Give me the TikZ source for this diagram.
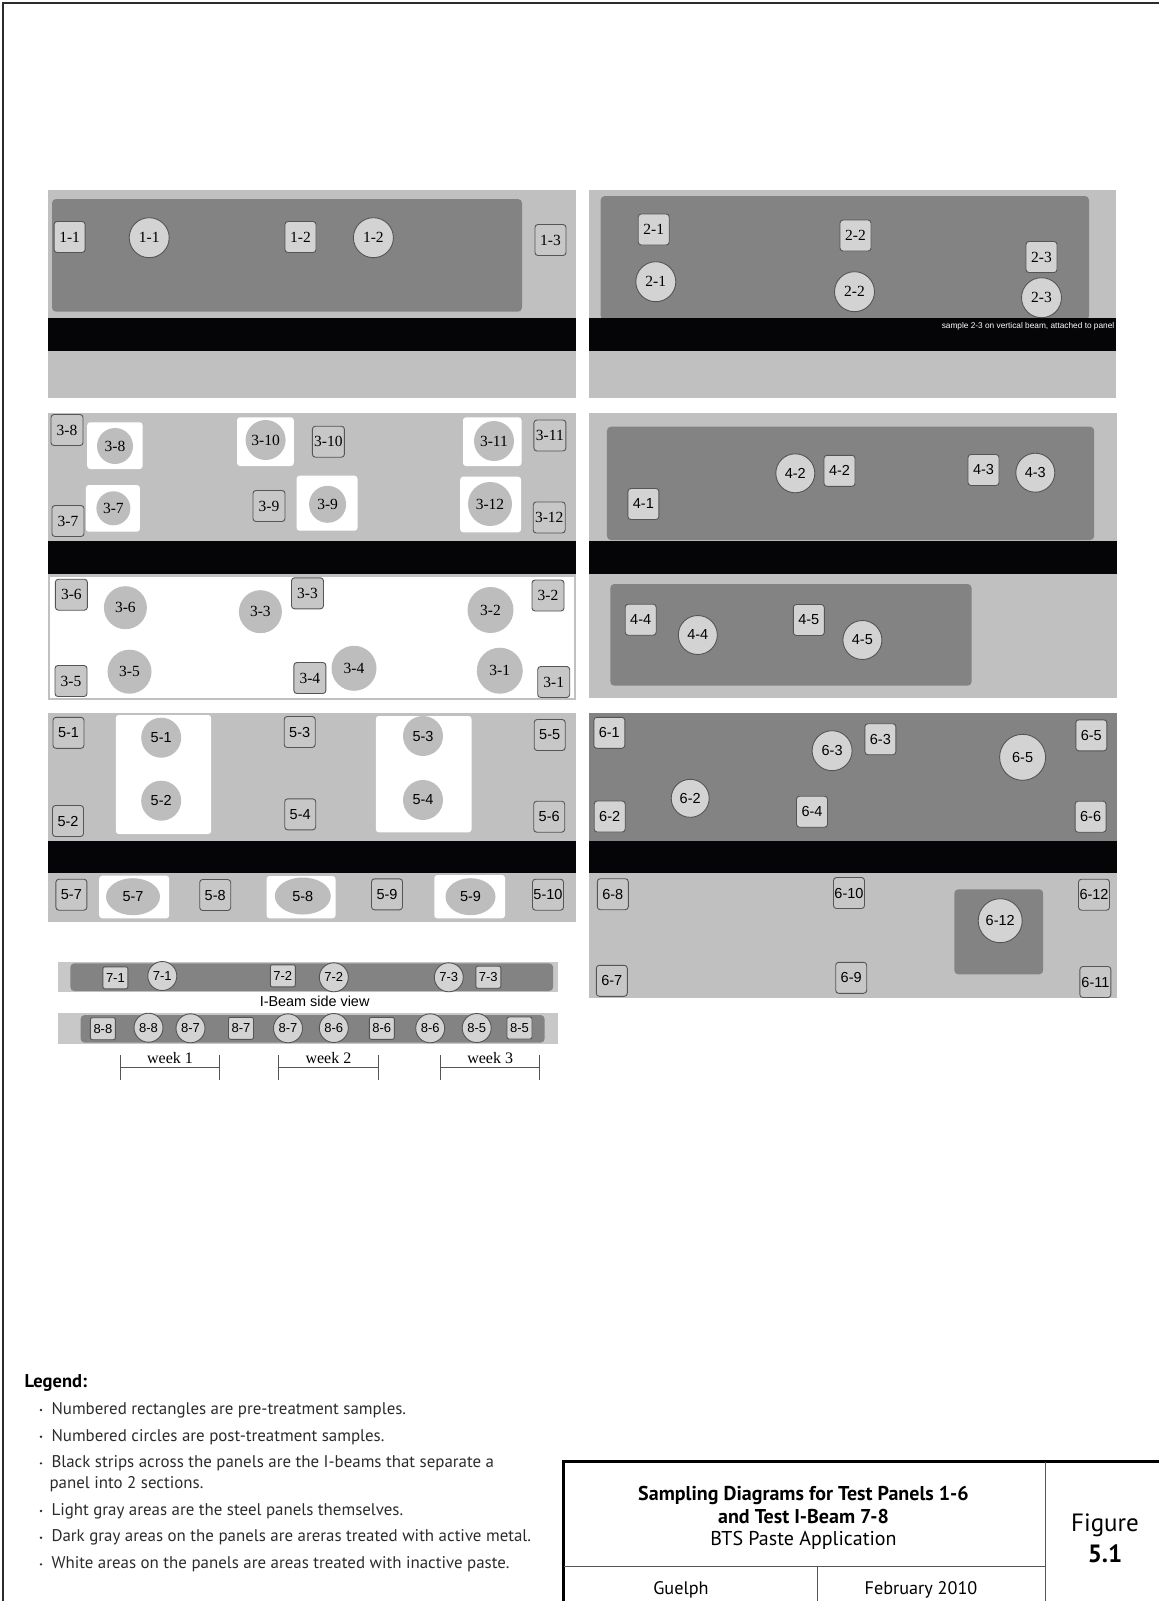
\documentclass[tikz,border=0pt]{standalone}
\usepackage{fontspec}
\setmainfont{Liberation Serif}
\newfontfamily\serifnum{Liberation Serif}
\newfontfamily\sansnum{Liberation Sans}
\newfontfamily\sheetfont{PT Sans}
\usetikzlibrary{shapes.geometric, arrows.meta, positioning, calc}
\definecolor{panelGray}{HTML}{C0C0C0}
\definecolor{activeGray}{HTML}{838383}
\definecolor{beamBlack}{HTML}{050508}
\definecolor{sampleGray}{HTML}{D3D3D3}
\definecolor{lightSample}{HTML}{C7C7C7}
\definecolor{edgeGray}{HTML}{555555}
\definecolor{pasteDot}{HTML}{BDBDBD}
\definecolor{beamLight}{HTML}{C8C8C8}
\definecolor{inkGray}{HTML}{2B2B2B}

\begin{document}
\begin{tikzpicture}[x=1pt, y=-1pt,
    prebox/.style={rectangle, rounded corners=3pt, draw=edgeGray, fill=sampleGray, line width=0.9pt,
      minimum width=31pt, minimum height=31pt, inner sep=1pt},
    postdot/.style={circle, draw=edgeGray, fill=sampleGray, line width=0.9pt, minimum size=40pt, inner sep=0pt},
    pastedot/.style={circle, fill=pasteDot, inner sep=0pt},
    onlight/.style={fill=lightSample},
    beambox/.style={prebox, minimum width=25pt, minimum height=22pt, rounded corners=2pt},
    beamdot/.style={postdot, minimum size=29pt},
    serifnums/.style={font=\serifnum\fontsize{15.5}{15.5}\selectfont},
    sansnums/.style={font=\sansnum\fontsize{14.5}{14.5}\selectfont},
    beamnums/.style={font=\sansnum\fontsize{13}{13}\selectfont},
    weekline/.style={{Bar[width=25pt]}-{Bar[width=25pt]}, line width=1pt, edgeGray},
    legendline/.style={anchor=west, text=inkGray, font=\sheetfont\fontsize{16.9}{20}\selectfont}
  ]
  \useasboundingbox (0,0) rectangle (1159,1601);
  \draw[line width=2.5pt, inkGray] (3,1601) -- (3,3) -- (1159,3);

  % panel 1
  \fill[panelGray] (47.6,190) rectangle (575.5,398);
  \fill[activeGray, rounded corners=4pt] (52,199) rectangle (522,311.7);
  \fill[beamBlack] (47.6,317.7) rectangle (575.5,351);
  \foreach \nm/\x/\y/\t in {r11/69.6/237/1-1, r12/300.5/237/1-2}
    \node[prebox, serifnums] (\nm) at (\x,\y) {\t};
  \node[prebox, serifnums, onlight] (r13) at (550.5,240) {1-3};
  \foreach \nm/\x/\y/\t in {c11/149.2/237.7/1-1, c12/373.4/237.7/1-2}
    \node[postdot, serifnums] (\nm) at (\x,\y) {\t};

  % panel 2
  \fill[panelGray] (588.6,190) rectangle (1115.5,398);
  \fill[activeGray, rounded corners=4pt] (600.7,196) rectangle (1089,320);
  \fill[beamBlack] (588.6,317.7) rectangle (1115.5,351);
  \foreach \nm/\x/\y/\t in {r21/653.7/229.5/2-1, r22/855.5/235.5/2-2, r23/1041.5/257/2-3}
    \node[prebox, serifnums] (\nm) at (\x,\y) {\t};
  \foreach \nm/\x/\y/\t in {c21/655.8/281.7/2-1, c22/854.5/291.7/2-2, c23/1041.5/297.7/2-3}
    \node[postdot, serifnums] (\nm) at (\x,\y) {\t};
  \node[anchor=east, text=white, font=\sansnum\fontsize{8.3}{9}\selectfont, inner sep=0pt] (note23)
    at (1114.5,326) {sample 2-3 on vertical beam, attached to panel};

  % panel 3
  \fill[panelGray] (47.6,413.3) rectangle (575.5,700);
  \fill[beamBlack] (47.6,541) rectangle (575.5,574.3);
  \fill[white] (50.3,576.7) rectangle (573.8,698);
  \foreach \xa/\ya/\xb/\yb in {87.2/422.3/142.6/469, 237/417.3/293.8/466, 463/417.3/521.5/466,
      85.8/485/139.9/531.7, 296.6/475.7/357.5/530.7, 460.2/476.7/521.1/532.3}
    \fill[white, rounded corners=3pt] (\xa,\ya) rectangle (\xb,\yb);
  \foreach \nm/\x/\y/\d/\t in {c38/115/446/36/3-8, c310/265.6/440/40/3-10, c311/494/441/40/3-11,
      c37/113.4/508.3/34/3-7, c39/327.6/504.3/37/3-9, c312/490/504/44/3-12,
      c36/125.4/607.7/43/3-6, c33/260.4/611.7/43/3-3, c32/490.5/610/46/3-2,
      c35/129.5/671.7/44/3-5, c34/354/668.3/45/3-4, c31/499.8/670.7/46/3-1}
    \node[pastedot, serifnums, minimum size=\d pt] (\nm) at (\x,\y) {\t};
  \foreach \nm/\x/\y/\t in {r38/67/430/3-8, r310/328.4/441.7/3-10, r311/549.9/435.5/3-11,
      r37/68/521/3-7, r39/269/506/3-9, r312/549.2/517.5/3-12,
      r36/71.4/594.7/3-6, r33/307.5/593.3/3-3, r32/548/595.5/3-2,
      r35/71/681/3-5, r34/309.9/678/3-4, r31/553.7/682/3-1}
    \node[prebox, serifnums, onlight, minimum width=32pt] (\nm) at (\x,\y) {\t};

  % panel 4
  \fill[panelGray] (588.6,413.3) rectangle (1116.6,698.3);
  \fill[activeGray, rounded corners=4pt] (606.9,426.7) rectangle (1094.2,540);
  \fill[beamBlack] (588.6,541) rectangle (1116.6,574.3);
  \fill[activeGray, rounded corners=4pt] (610.3,584) rectangle (971.6,685.7);
  \foreach \nm/\x/\y/\t in {r41/643.4/504/4-1, r42/839.5/470.8/4-2, r43/983.5/470/4-3,
      r44/640.7/619.7/4-4, r45/808.8/620/4-5}
    \node[prebox, sansnums] (\nm) at (\x,\y) {\t};
  \foreach \nm/\x/\y/\t in {c42/795.3/473.3/4-2, c43/1035.3/472.7/4-3,
      c44/697.8/635/4-4, c45/862.4/640/4-5}
    \node[postdot, sansnums, minimum size=39pt] (\nm) at (\x,\y) {\t};

  % panel 5
  \fill[panelGray] (47.6,712.7) rectangle (575.5,921.7);
  \fill[beamBlack] (47.6,841) rectangle (575.5,873.3);
  \foreach \xa/\ya/\xb/\yb in {115.8/715/211.2/834, 375.8/716/471.5/832.3,
      99.2/875.7/169.2/918.3, 266.6/876/335.5/918.3, 434.3/875/505/918.3}
    \fill[white, rounded corners=3pt] (\xa,\ya) rectangle (\xb,\yb);
  \foreach \nm/\x/\y/\t in {c51/161.2/737.7/5-1, c52/161.2/800.7/5-2, c53/423/736/5-3, c54/423/800/5-4}
    \node[pastedot, sansnums, minimum size=40pt] (\nm) at (\x,\y) {\t};
  \foreach \nm/\x/\y/\w/\t in {e57/133/896.7/54/5-7, e58/302.8/896/56/5-8, e59/470.5/896.7/50/5-9}
    \node[ellipse, fill=pasteDot, inner sep=0pt, minimum width=\w pt, minimum height=37pt, sansnums] (\nm) at (\x,\y) {\t};
  \foreach \nm/\x/\y/\t in {r51/68.5/732.8/5-1, r52/68/821/5-2, r53/299.7/732/5-3, r54/300.2/814.3/5-4,
      r55/549.7/735/5-5, r56/549.2/816.7/5-6, r57/71.4/894.7/5-7, r58/215.2/895/5-8,
      r59/387/894.3/5-9, r510/548/894.7/5-10}
    \node[prebox, sansnums, onlight] (\nm) at (\x,\y) {\t};

  % panel 6
  \fill[panelGray] (588.6,712.7) rectangle (1116.6,998.3);
  \fill[activeGray] (588.6,712.7) rectangle (1116.6,841);
  \fill[beamBlack] (588.6,841) rectangle (1116.6,873.3);
  \fill[activeGray, rounded corners=4pt] (954.3,889.3) rectangle (1043.2,974.3);
  \foreach \nm/\x/\y/\t in {r61/609.3/732.8/6-1, r63/880.4/739.2/6-3, r65/1091.3/735.3/6-5,
      r62/609.7/816.5/6-2, r64/812/811.7/6-4, r66/1090.6/816.7/6-6}
    \node[prebox, sansnums] (\nm) at (\x,\y) {\t};
  \foreach \nm/\x/\y/\t in {r68/612.8/894.2/6-8, r610/849/893/6-10, r612/1094/894.7/6-12,
      r67/611.8/980.8/6-7, r69/851.2/977.8/6-9, r611/1095.4/982/6-11}
    \node[prebox, sansnums, onlight] (\nm) at (\x,\y) {\t};
  \foreach \nm/\x/\y/\d/\t in {c63/832.1/750.7/40/6-3, c65/1022.6/757.3/46/6-5,
      c62/690.2/798.3/38/6-2, c612/1000.2/920.7/44/6-12}
    \node[postdot, sansnums, minimum size=\d pt] (\nm) at (\x,\y) {\t};

  % I-beams 7 and 8
  \fill[beamLight] (57.9,961.7) rectangle (558.3,992.3);
  \fill[activeGray, rounded corners=4pt] (70.3,963.3) rectangle (553.2,991);
  \fill[beamLight] (57.9,1013.3) rectangle (558.3,1044);
  \fill[activeGray, rounded corners=4pt] (80.6,1015) rectangle (544.6,1042.7);
  \foreach \nm/\x/\y/\t in {r71/115.4/977.8/7-1, r72/282.8/975.8/7-2, r73/488.3/977.2/7-3,
      r88/102.9/1028.7/8-8, r87/241/1028.3/8-7, r86/381.8/1028.3/8-6, r85/519.5/1028/8-5}
    \node[beambox, beamnums] (\nm) at (\x,\y) {\t};
  \foreach \nm/\x/\y/\t in {c71/162.3/976/7-1, c72/333.8/977.3/7-2, c73/448.8/977.3/7-3,
      c88/148.5/1027.7/8-8, c87a/190.5/1028.3/8-7, c87b/288/1028.3/8-7, c86a/333.8/1028/8-6,
      c86b/430.2/1028.3/8-6, c85/476.7/1028/8-5}
    \node[beamdot, beamnums] (\nm) at (\x,\y) {\t};
  \node[font=\sansnum\fontsize{14.4}{14.4}\selectfont] (side) at (314.6,1001.7) {I-Beam side view};

  % week spans
  \foreach \i/\xa/\xb in {1/119.9/220.1, 2/278.3/378.6, 3/440.2/540.1} {
    \coordinate (wk\i l) at (\xa,1067.3);
    \coordinate (wk\i r) at (\xb,1067.3);
    \draw[weekline] (wk\i l) -- (wk\i r);
    \node[font=\serifnum\fontsize{16}{16}\selectfont, anchor=base] (wk\i) at ($(wk\i l)!0.5!(wk\i r)+(0,-4)$) {week \i};
  }

  % legend
  \node[legendline, font=\sheetfont\bfseries\fontsize{18.5}{20}\selectfont, text=black] (leghead) at (21,1383.3) {Legend:};
  \foreach \i/\y/\t in {1/1410/Numbered rectangles are pre-treatment samples.,
      2/1436.7/Numbered circles are post-treatment samples.,
      3/1463.3/Black strips across the panels are the I-beams that separate a,
      4/1511/Light gray areas are the steel panels themselves.,
      5/1537.7/Dark gray areas on the panels are areras treated with active metal.,
      6/1564.3/White areas on the panels are areas treated with inactive paste.} {
    \fill[inkGray] (41,\y) circle (1.3);
    \node[legendline] (leg\i) at (48,\y) {\t};
  }
  \node[legendline] (leg3b) at (46,1484) {panel into 2 sections.};

  % title block
  \draw[line width=3pt] (563.5,1601) -- (563.5,1461.7) -- (1159,1461.7);
  \draw[line width=1pt, edgeGray] (1045,1461.7) -- (1045,1601);
  \draw[line width=1pt, edgeGray] (563.5,1566.7) -- (1045,1566.7);
  \draw[line width=1pt, edgeGray] (817,1566.7) -- (817,1601);
  \node[align=center, font=\sheetfont\fontsize{20}{22.5}\selectfont] (title) at (803.5,1518)
    {\bfseries Sampling Diagrams for Test Panels 1-6\\ \bfseries and Test I-Beam 7-8\\ BTS Paste Application};
  \node[align=center, font=\sheetfont\fontsize{25}{31}\selectfont] (fig) at (1105,1538) {Figure\\ \bfseries 5.1};
  \node[font=\sheetfont\fontsize{18.2}{20}\selectfont] (place) at (681,1590) {Guelph};
  \node[font=\sheetfont\fontsize{18.2}{20}\selectfont] (date) at (921,1590) {February 2010};
\end{tikzpicture}
\end{document}
